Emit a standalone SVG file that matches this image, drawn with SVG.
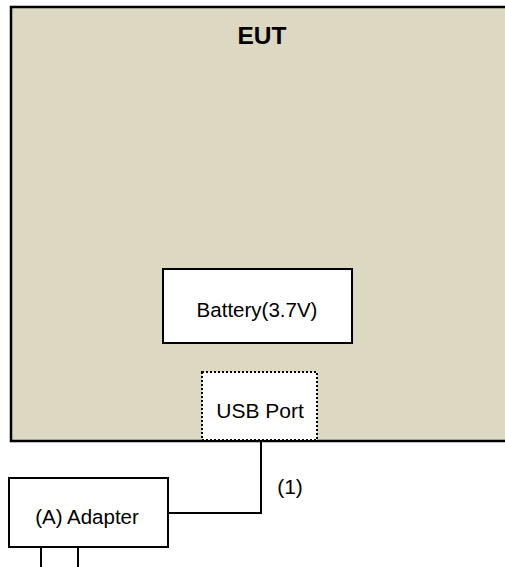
<svg xmlns="http://www.w3.org/2000/svg" width="505" height="567" viewBox="0 0 505 567">
<style>
.t{font-family:"Liberation Sans",Arial,sans-serif;font-size:21px;fill:#000;text-anchor:middle}
.b{fill:#fff;stroke:#000;stroke-width:2}
.ln{fill:none;stroke:#000;stroke-width:2}
</style>
<rect width="505" height="567" fill="#fff"/>
<g id="eut">
<rect x="11" y="7" width="500" height="434" fill="#DDD8C2" stroke="#000" stroke-width="2.5"/>
<text class="t" x="262" y="44" style="font-weight:bold;font-size:24.5px">EUT</text>
</g>
<g id="battery">
<rect class="b" x="163" y="269" width="189" height="74"/>
<text class="t" x="257" y="317" style="font-size:20.5px">Battery(3.7V)</text>
</g>
<g id="usb">
<rect x="202" y="372" width="115" height="68" fill="#fff" stroke="#000" stroke-width="2" stroke-dasharray="2,2"/>
<text class="t" x="260" y="417.5">USB Port</text>
</g>
<g id="adapter">
<rect class="b" x="9" y="478" width="159" height="69"/>
<text class="t" x="87" y="523.5" style="font-size:20.5px">(A) Adapter</text>
<line class="ln" x1="41" y1="547" x2="41" y2="567"/>
<line class="ln" x1="78" y1="547" x2="78" y2="567"/>
</g>
<g id="connectors">
<polyline class="ln" points="168,513 261,513 261,441"/>
<text class="t" x="290" y="494">(1)</text>
</g>
</svg>
